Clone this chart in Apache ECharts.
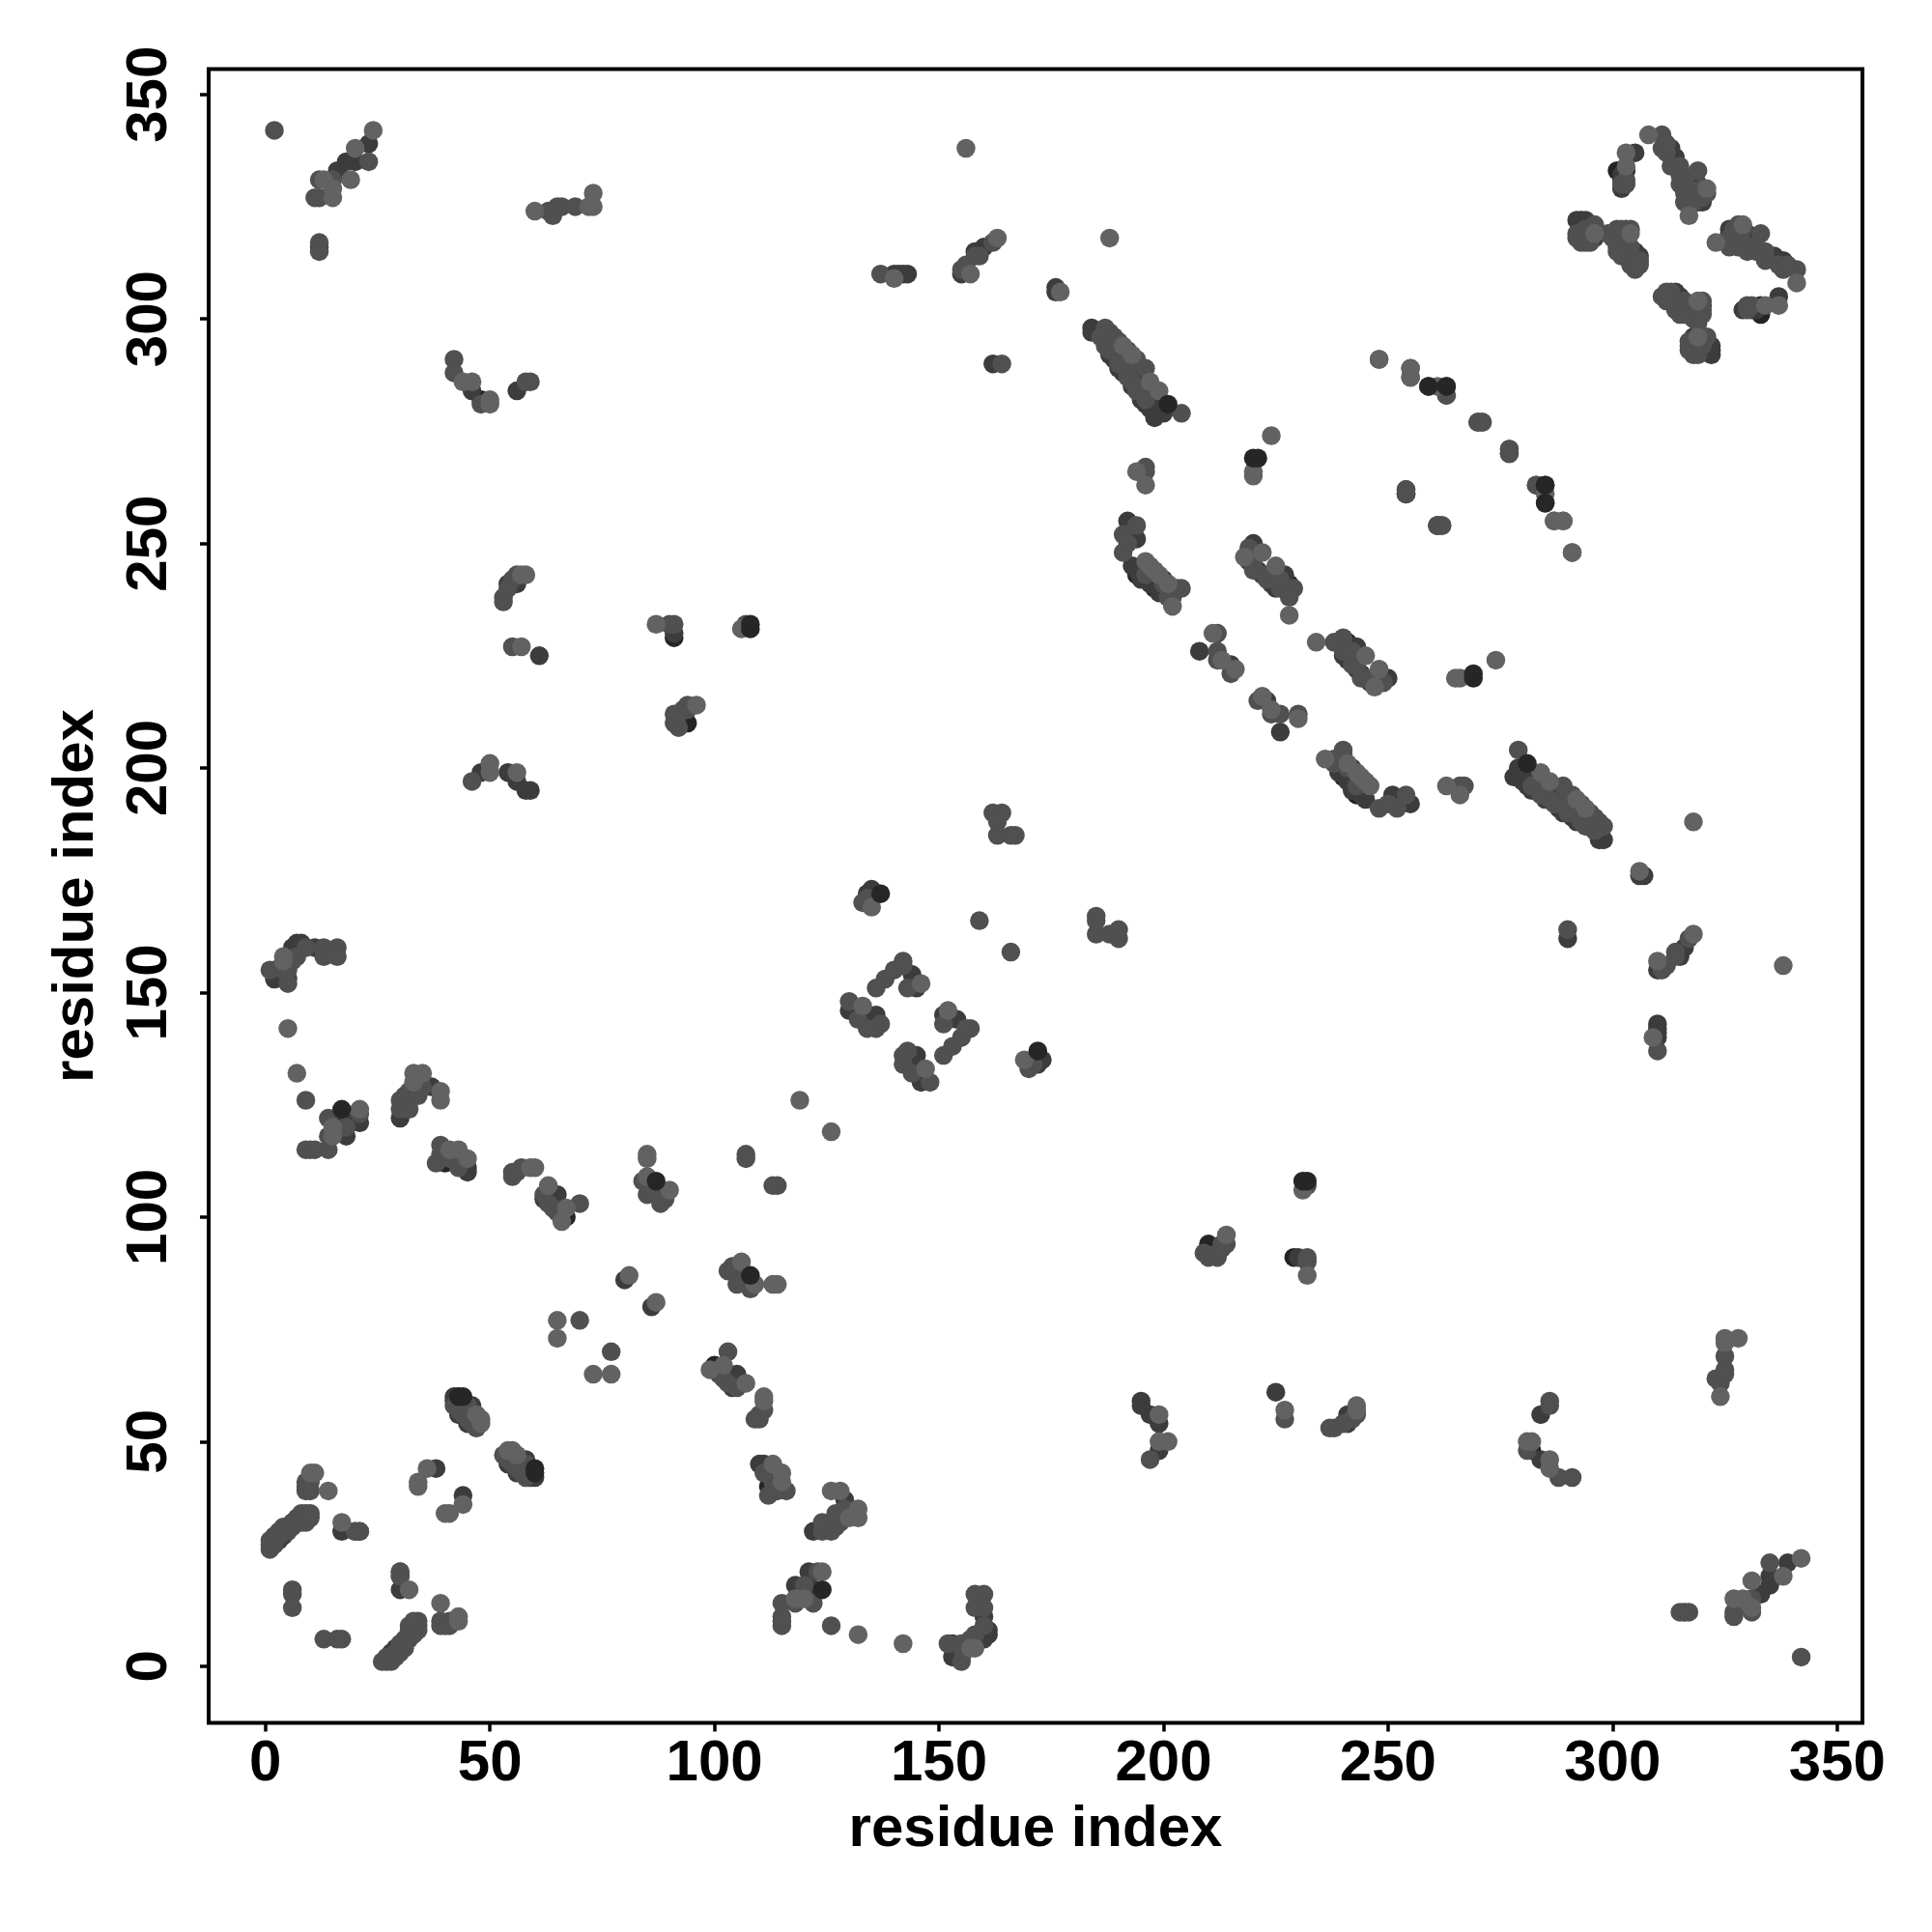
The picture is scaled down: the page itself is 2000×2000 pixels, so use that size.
<!DOCTYPE html>
<html><head><meta charset="utf-8">
<style>html,body{margin:0;padding:0;background:#fff}#c{width:2000px;height:2000px}</style>
<script src="https://cdn.jsdelivr.net/npm/echarts@6/dist/echarts.min.js"></script>
</head><body><div id="c"></div>
<script>
// Contact pairs (i < j); the map is symmetric, so each is drawn at (i,j) and (j,i).
const tickValues = [0,50,100,150,200,250,300,350];
const axisTitle = "residue index";
const blackUnder = [[48,282],[2,155],[94,210],[40,112],[67,100],[301,333],[135,144],[228,241],[91,229],[65,102],[194,243],[198,240],[293,322],[303,333]];
const darkContacts = [[23,339],[20,335],[18,335],[16,333],[12,316],[46,284],[56,284],[54,241],[56,241],[91,230],[61,225],[48,199],[54,199],[56,197],[58,195],[59,195],[6,160],[7,161],[8,161],[11,160],[2,153],[5,153],[17,122],[18,121],[18,118],[21,121],[30,122],[37,129],[45,111],[45,110],[62,104],[65,105],[80,86],[17,30],[3,28],[4,29],[38,44],[45,54],[46,58],[42,59],[43,56],[42,60],[130,146],[136,145],[136,144],[144,154],[144,152],[145,151],[135,173],[134,172],[208,226],[215,223],[155,310],[158,315],[160,316],[140,310],[141,310],[142,310],[143,310],[176,307],[176,306],[162,290],[184,298],[184,297],[190,289],[195,288],[198,282],[200,279],[192,255],[194,251],[193,245],[195,243],[197,241],[199,239],[200,242],[220,250],[227,243],[259,285],[313,338],[318,330],[320,326],[305,337],[302,329],[292,322],[294,322],[306,314],[261,254],[262,254],[254,261],[277,270],[200,281],[188,292],[189,291],[191,288],[193,285],[195,282],[196,281],[197,280],[198,278],[194,244],[195,242],[197,242],[198,241],[199,240],[200,239],[219,246],[221,244],[222,243],[224,241],[225,240],[227,241],[228,240],[302,332],[302,331],[293,320],[301,318],[305,315],[319,326],[319,330],[314,336],[294,318],[296,318],[303,320]];
const midContacts = [[2,342],[23,335],[12,327],[11,327],[12,331],[15,331],[12,317],[12,315],[63,324],[64,323],[65,325],[66,325],[69,325],[42,291],[42,288],[48,281],[58,286],[59,286],[56,243],[55,242],[53,238],[53,237],[54,240],[55,227],[90,232],[91,232],[107,232],[94,214],[94,213],[93,213],[92,209],[91,212],[91,210],[92,212],[46,197],[1,155],[5,152],[4,155],[5,155],[5,156],[6,157],[7,158],[9,160],[13,160],[13,158],[16,160],[16,158],[9,126],[14,122],[21,123],[18,120],[14,118],[14,115],[9,115],[10,115],[11,115],[31,127],[32,128],[30,126],[30,124],[32,124],[34,127],[35,129],[39,116],[39,114],[41,113],[43,113],[38,112],[43,111],[55,110],[56,110],[57,111],[55,109],[107,114],[107,113],[62,105],[63,103],[64,102],[65,101],[70,103],[86,106],[89,104],[88,103],[85,105],[84,108],[70,77],[6,17],[6,16],[6,13],[30,21],[30,20],[20,30],[21,30],[1,26],[1,27],[1,28],[2,27],[2,28],[2,29],[3,29],[3,30],[4,30],[4,31],[5,30],[5,31],[6,31],[6,32],[7,32],[7,33],[8,32],[9,32],[8,34],[9,34],[10,34],[8,33],[10,33],[10,42],[10,41],[10,39],[9,41],[9,40],[9,39],[42,58],[43,58],[43,57],[44,56],[45,56],[45,58],[45,55],[46,55],[46,54],[47,53],[44,59],[44,57],[46,56],[142,157],[138,153],[136,151],[140,155],[142,156],[143,151],[130,148],[132,144],[137,143],[136,142],[134,142],[134,171],[133,170],[159,166],[162,190],[164,190],[163,188],[163,185],[166,185],[167,185],[212,230],[215,221],[212,224],[212,226],[137,310],[162,317],[159,314],[158,314],[156,312],[155,311],[164,290],[187,298],[188,297],[189,295],[187,295],[188,293],[191,290],[192,288],[193,286],[196,284],[196,282],[204,279],[186,296],[187,294],[189,296],[190,295],[190,290],[192,293],[192,287],[194,291],[194,284],[196,289],[196,267],[196,266],[194,254],[191,252],[191,248],[192,250],[201,238],[202,238],[203,240],[204,240],[196,243],[200,241],[219,249],[220,245],[220,244],[223,243],[223,242],[226,240],[226,242],[229,240],[228,238],[255,287],[263,283],[283,263],[311,341],[311,338],[312,337],[315,334],[313,334],[319,333],[315,330],[317,327],[316,326],[319,328],[303,330],[302,330],[292,318],[293,317],[296,321],[300,319],[302,319],[302,315],[304,314],[306,313],[305,311],[270,277],[271,277],[277,271],[254,262],[261,254],[303,331],[292,319],[294,320],[295,319],[296,320],[299,319],[300,318],[303,318],[301,316],[302,316],[303,315],[304,316],[305,313],[304,312],[306,312],[312,339],[315,333],[315,332],[316,331],[316,329],[317,329],[318,328],[316,328],[317,326],[318,326],[320,327],[320,329],[321,328],[302,314],[303,314],[304,313],[305,312],[301,315],[301,319],[304,320],[302,320],[301,320],[293,318],[295,317],[294,317]];
const lightContacts = [[24,342],[20,338],[19,331],[13,331],[15,329],[15,327],[60,324],[72,325],[73,325],[73,328],[44,286],[46,286],[50,282],[50,281],[57,243],[58,243],[57,227],[87,232],[106,231],[96,214],[50,201],[50,199],[56,199],[4,158],[4,157],[5,142],[7,132],[21,124],[15,118],[15,120],[33,132],[35,132],[33,130],[39,128],[39,126],[41,115],[43,115],[45,113],[60,111],[59,111],[85,114],[85,113],[63,107],[67,102],[66,99],[85,109],[90,106],[81,87],[65,77],[65,73],[17,32],[10,43],[11,43],[14,39],[34,40],[34,41],[36,44],[47,56],[48,55],[48,54],[156,338],[163,318],[157,310],[140,309],[188,318],[177,306],[191,294],[193,292],[197,286],[199,284],[224,274],[220,266],[220,265],[194,266],[196,263],[196,246],[198,244],[197,245],[199,243],[201,241],[202,236],[218,247],[222,248],[225,245],[228,234],[211,230],[213,224],[216,222],[248,291],[255,289],[261,285],[287,255],[289,255],[291,248],[308,341],[321,329],[317,323],[303,337],[303,334],[296,319],[304,319],[119,126],[135,169],[146,152],[133,147]];
const blackOver = [[17,124],[43,60],[44,60],[87,108],[137,172],[201,281],[220,269],[221,269],[108,231],[108,232],[263,285],[285,263],[285,259]];

const both = pairs => pairs.concat(pairs.map(p => [p[1], p[0]]));
const layers = [
  [blackUnder, '#242424'],
  [darkContacts, '#3c3c3c'],
  [midContacts, '#505050'],
  [lightContacts, '#626262'],
  [blackOver, '#262626']
];
const axisFont = {fontFamily:'Liberation Sans', fontWeight:'bold', color:'#000'};
const common = {
  type:'value', min:-12.64, max:355.64, name:axisTitle, nameLocation:'middle',
  nameTextStyle:Object.assign({fontSize:60}, axisFont),
  splitLine:{show:false}, axisLine:{show:false, onZero:false},
  axisTick:{show:true, length:9, inside:false, customValues:tickValues, lineStyle:{color:'#000', width:3.5}}
};
const chart = echarts.init(document.getElementById('c'), null, {renderer:'canvas'});
chart.setOption({
  animation:false, backgroundColor:'#fff',
  grid:{left:216, top:71.5, width:1712, height:1712, show:true, backgroundColor:'#fff', borderColor:'#000', borderWidth:4, z:0},
  xAxis:Object.assign({}, common, {nameGap:81,
    axisLabel:Object.assign({fontSize:60, margin:13, customValues:tickValues, showMinLabel:true, showMaxLabel:true}, axisFont)}),
  yAxis:Object.assign({}, common, {nameGap:107,
    axisLabel:Object.assign({fontSize:60, margin:31, rotate:90, align:'center', verticalAlign:'bottom', customValues:tickValues}, axisFont)}),
  series:layers.map(l => ({type:'scatter', symbol:'circle', symbolSize:19.5, clip:false,
    data:both(l[0]), itemStyle:{color:l[1], opacity:1}, emphasis:{disabled:true}, silent:true}))
});
</script></body></html>
